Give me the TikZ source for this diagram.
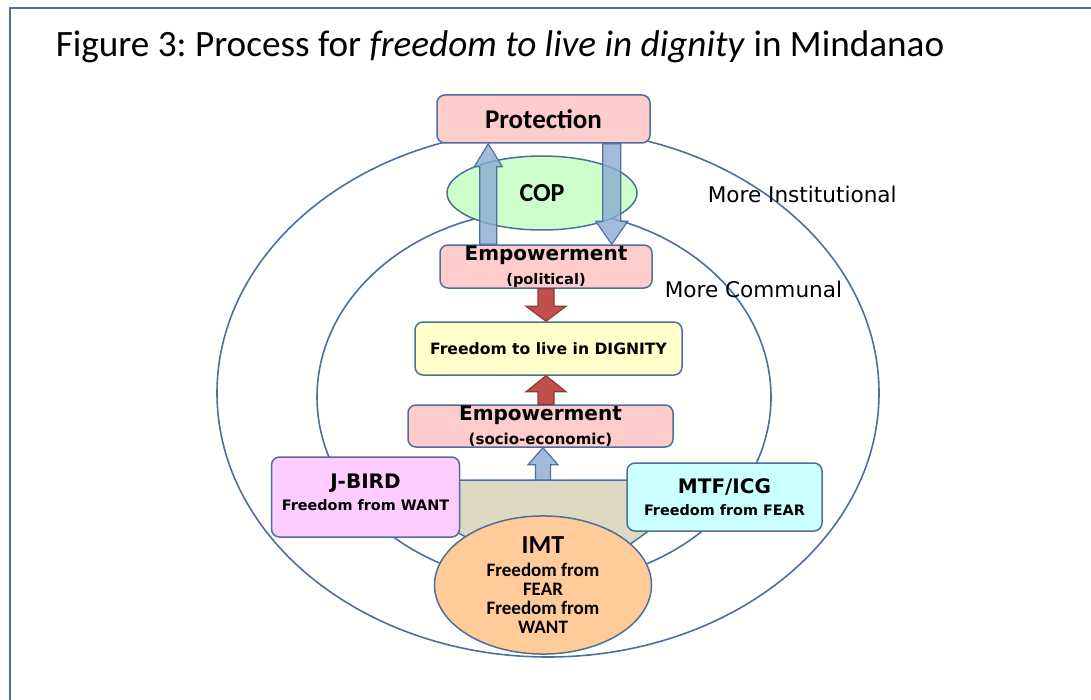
\documentclass[tikz,border=0pt]{standalone}
\usepackage{fontspec}
\setmainfont{Carlito}
\newfontfamily\dejavu{DejaVu Sans}
\usetikzlibrary{shapes.geometric,calc}

\definecolor{edgeblue}{RGB}{78,110,155}
\definecolor{pinkbox}{RGB}{255,204,204}
\definecolor{greenoval}{RGB}{204,255,204}
\definecolor{yellowbox}{RGB}{255,255,204}
\definecolor{magentabox}{RGB}{255,204,255}
\definecolor{cyanbox}{RGB}{204,255,255}
\definecolor{peachoval}{RGB}{255,204,153}
\definecolor{tanfill}{RGB}{221,217,195}
\definecolor{arrowblue}{RGB}{140,170,210}
\definecolor{arrowedge}{RGB}{80,112,160}
\definecolor{arrowred}{RGB}{192,80,77}
\definecolor{rededge}{RGB}{140,58,55}

\begin{document}
\begin{tikzpicture}[x=0.5pt, y=-0.5pt, line width=0.75pt,
    box/.style={draw=edgeblue, rounded corners=4pt, align=center, inner sep=0pt},
    oval/.style={draw=edgeblue, ellipse, align=center, inner sep=0pt},
    ring/.style={draw=edgeblue, line width=0.8pt},
    ringlabel/.style={anchor=west, inner sep=0pt, font=\dejavu\fontsize{10.8}{12}\selectfont},
    bluearrow/.style={draw=arrowedge, fill=arrowblue, fill opacity=0.8, line width=0.6pt},
    redarrow/.style={draw=rededge, fill=arrowred, line width=0.6pt}]
    \useasboundingbox (0,0) rectangle (1091,700);

    % frame and title
    \draw[edgeblue, line width=1pt] (10,700) -- (10,8) -- (1091,8);
    \node[anchor=base west, inner sep=0pt, font=\fontsize{18.6}{21}\selectfont] (title) at (55,57)
        {\frenchspacing Figure 3: Process for \textit{freedom to live in dignity} in Mindanao};

    % rings
    \draw[ring] (548,393) ellipse [x radius=331, y radius=264];
    \draw[ring] (544,397) ellipse [x radius=227, y radius=187];

    % common ground below the boxes
    \coordinate (tanTop) at (543,480);
    \draw[draw=edgeblue, fill=tanfill] (360,480) -- (720,480) -- (594,570) -- (527,570) -- cycle;

    % boxes
    \node[box, fill=pinkbox, minimum width=106.5pt, minimum height=24pt,
        font=\bfseries\fontsize{13.5}{15}\selectfont] (prot) at (543.5,119) {Protection};
    \node[oval, fill=greenoval, minimum width=95pt, minimum height=37pt,
        font=\bfseries\fontsize{13}{14}\selectfont] (cop) at (542,193) {COP};
    \node[box, fill=pinkbox, minimum width=106pt, minimum height=21.5pt,
        font=\dejavu\bfseries\fontsize{10}{12}\selectfont] (empP) at (546,266.5)
        {Empowerment\\{\fontsize{7.3}{9}\selectfont (political)}};
    \node[box, fill=yellowbox, minimum width=133.5pt, minimum height=26.5pt,
        font=\dejavu\bfseries\fontsize{7.8}{10}\selectfont] (dig) at (548.5,348.5)
        {Freedom to live in DIGNITY};
    \node[box, fill=pinkbox, minimum width=132.5pt, minimum height=21pt,
        font=\dejavu\bfseries\fontsize{10}{12}\selectfont] (empS) at (540.5,426)
        {Empowerment\\{\fontsize{7.5}{9}\selectfont (socio-economic)}};
    \node[box, fill=magentabox, minimum width=94pt, minimum height=40pt,
        font=\dejavu\bfseries\fontsize{10}{11}\selectfont] (jbird) at (365.5,497)
        {J-BIRD\\{\fontsize{7.2}{9}\selectfont Freedom from WANT}\\[-10pt]\strut};
    \node[box, fill=cyanbox, minimum width=97.5pt, minimum height=34pt,
        font=\dejavu\bfseries\fontsize{10}{11}\selectfont] (mtf) at (724.5,497)
        {MTF/ICG\\{\fontsize{7.2}{9}\selectfont Freedom from FEAR}};
    \node[oval, fill=peachoval, minimum width=108.5pt, minimum height=55pt,
        font=\bfseries\fontsize{9.5}{9.6}\selectfont] (imt) at (543,585)
        {{\fontsize{13}{12}\selectfont IMT}\\[2pt]Freedom from\\FEAR\\Freedom from\\WANT};

    % ring labels
    \node[ringlabel] (inst) at (707,194) {More Institutional};
    \node[ringlabel] (comm) at (664,289) {More Communal};

    % block arrows
    \coordinate (upL) at ($(empP.north west)+(49,0)$);
    \coordinate (upLtip) at (upL |- prot.south);
    \draw[bluearrow] ($(upL)+(-8.5,0)$) -- ($(upLtip)+(-8.5,23)$) -- ($(upLtip)+(-14,23)$) -- (upLtip)
        -- ($(upLtip)+(14,23)$) -- ($(upLtip)+(8.5,23)$) -- ($(upL)+(8.5,0)$) -- cycle;

    \coordinate (dnR) at ($(prot.south east)+(-39,0)$);
    \coordinate (dnRtip) at (dnR |- empP.north);
    \draw[bluearrow] ($(dnR)+(-9,0)$) -- ($(dnRtip)+(-9,-23)$) -- ($(dnRtip)+(-16,-23)$) -- (dnRtip)
        -- ($(dnRtip)+(16,-23)$) -- ($(dnRtip)+(9,-23)$) -- ($(dnR)+(9,0)$) -- cycle;

    \coordinate (dnTip) at (empP.south |- dig.north);
    \draw[redarrow] ($(empP.south)+(-8,0)$) -- ($(dnTip)+(-8,-15)$) -- ($(dnTip)+(-20,-15)$) -- (dnTip)
        -- ($(dnTip)+(20,-15)$) -- ($(dnTip)+(8,-15)$) -- ($(empP.south)+(8,0)$) -- cycle;

    \coordinate (upTip) at (empP.south |- dig.south);
    \coordinate (upTail) at (empP.south |- empS.north);
    \draw[redarrow] ($(upTail)+(-8,0)$) -- ($(upTip)+(-8,16)$) -- ($(upTip)+(-20,16)$) -- (upTip)
        -- ($(upTip)+(20,16)$) -- ($(upTip)+(8,16)$) -- ($(upTail)+(8,0)$) -- cycle;

    \coordinate (baseTip) at (tanTop |- empS.south);
    \draw[bluearrow] ($(tanTop)+(-7.5,0)$) -- ($(baseTip)+(-7.5,17)$) -- ($(baseTip)+(-15,17)$) -- (baseTip)
        -- ($(baseTip)+(15,17)$) -- ($(baseTip)+(7.5,17)$) -- ($(tanTop)+(7.5,0)$) -- cycle;
\end{tikzpicture}
\end{document}
